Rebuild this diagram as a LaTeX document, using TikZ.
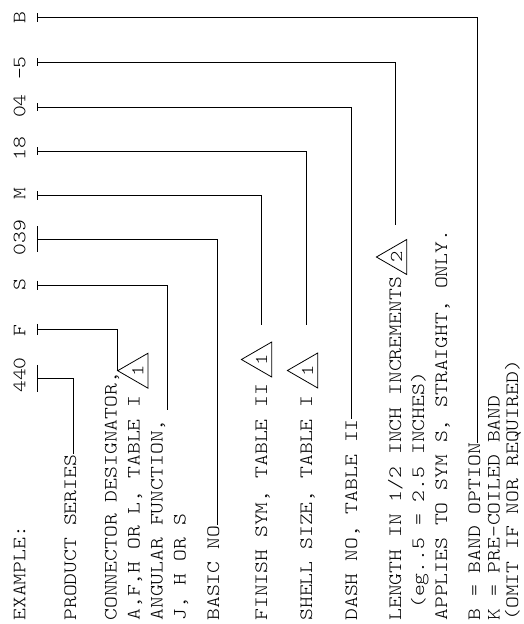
\documentclass[tikz,border=0pt]{standalone}
\usepackage{fontspec}
\newfontfamily\partfont[FakeStretch=1.2]{Latin Modern Mono Light}
\usetikzlibrary{shapes.geometric}

\begin{document}
\begin{tikzpicture}[x=1pt, y=-1pt, line width=0.8pt,
    txt/.style={font=\partfont\fontsize{18.8}{20}\selectfont, rotate=90, inner sep=0pt, anchor=base west},
    code/.style={txt, anchor=base},
    flag/.style={draw, regular polygon, regular polygon sides=3, minimum size=40.4pt, inner sep=0pt, rotate=90,
                 font=\partfont\fontsize{18}{18}\selectfont}]
    \useasboundingbox (0,0) rectangle (523,624);
    \clip (0,0) rectangle (523,624);

    % part number and its ticks
    \node[txt] (ex) at (25.3,621) {EXAMPLE:};
    \foreach \nm/\txt/\yc/\yt/\h in {p/440/375/378.3/13.5, f/F/331/329.3/5.5, s/S/285/285/4.5,
                                    n/039/237.5/239.3/13, m/M/194/195.7/4.5, z/18/148.5/151/4,
                                    d/04/106/107/4, l/-5/68/62/4, b/B/17.7/17.7/4.5} {
        \node[code] (c\nm) at (25.3,\yc) {\txt};
        \coordinate (t\nm) at (37.3,\yt);
        \draw ([yshift=\h pt]t\nm) -- ([yshift=-\h pt]t\nm);
    }

    % descriptions
    \node[txt] (prod) at (76,621) {PRODUCT SERIES};
    \node[txt] (conn) at (116.5,621) {CONNECTOR DESIGNATOR,};
    \node[txt] (conn2) at (139.5,621) {A,F,H OR L, TABLE I};
    \node[txt] (ang) at (162.5,621) {ANGULAR FUNCTION,};
    \node[txt] (ang2) at (185.5,621) {J, H OR S};
    \node[txt] (basic) at (219,621) {BASIC NO};
    \node[txt] (fin) at (267,621) {FINISH SYM, TABLE II};
    \node[txt] (shell) at (312,621) {SHELL SIZE, TABLE I};
    \node[txt] (dash) at (357,621) {DASH NO, TABLE II};
    \node[txt] (len) at (401,621) {LENGTH IN 1/2 INCH INCREMENTS};
    \node[txt] (len2) at (424,621) {\hphantom{0}(eg..5 = 2.5 INCHES)};
    \node[txt] (len3) at (447,621) {APPLIES TO SYM S, STRAIGHT, ONLY.};
    \node[txt] (band) at (480,621) {B = BAND OPTION};
    \node[txt] (band2) at (499.5,621) {K = PRE-COILED BAND};
    \node[txt] (band3) at (518,621) {(OMIT IF NOR REQUIRED)};

    % note flags
    \node[flag] (fa) at (137.9,370.7) {\raisebox{-2.5pt}{1}};
    \node[flag] (fb) at (261.6,359.5) {\raisebox{-2.5pt}{1}};
    \node[flag] (fc) at (307.6,370.5) {\raisebox{-2.5pt}{1}};
    \node[flag] (fd) at (396.6,257) {\raisebox{-2.5pt}{2}};

    % free ends
    \coordinate (es) at (167.7,410);
    \coordinate (em) at (261.7,325);
    \coordinate (ez) at (306.7,325);
    \coordinate (el) at (395.3,225);

    % leaders
    \draw (tp) -| ([xshift=-2.7pt]prod.base east);
    \draw (tf) -| (fa.corner 1);
    \draw (ts) -| (es);
    \draw (tn) -| ([xshift=-1.7pt]basic.base east);
    \draw (tm) -| (em);
    \draw (tz) -| (ez);
    \draw (td) -| ([xshift=-5.3pt]dash.base east);
    \draw (tl) -| (el);
    \draw (tb) -| ([xshift=-2.3pt]band.base east);
\end{tikzpicture}
\end{document}
